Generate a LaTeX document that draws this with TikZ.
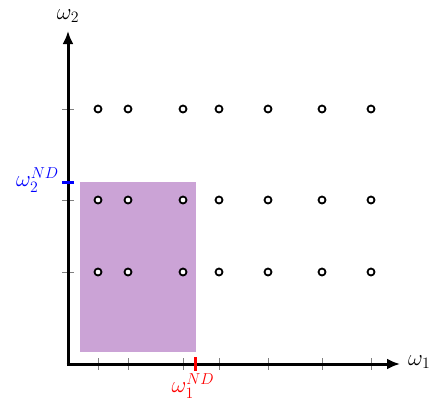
\documentclass[tikz,border=0pt]{standalone}
\usepackage{graphicx}
\usetikzlibrary{arrows.meta}
\definecolor{rectfill}{RGB}{203,163,214}
\newcommand{\biglab}[1]{\scalebox{1.1}{\fontsize{20.74}{25}\selectfont$#1$}}
\begin{document}
\begin{tikzpicture}[x=1pt,y=-1pt,
  axis/.style={line width=3pt,-{Latex[length=13pt,width=11pt]}},
  tickmark/.style={draw=gray,line width=0.8pt},
  pt/.style={circle,draw=black,fill=white,line width=1.8pt,minimum size=7pt,inner sep=0pt},
  lab/.style={inner sep=0pt}]
\useasboundingbox (0,0) rectangle (434,397);
\fill[rectfill] (80,182) rectangle (196,352);
\coordinate (O) at (68,364);
\coordinate (ytop) at (68,31);
\coordinate (xend) at (400,364);
\foreach \x in {98,128,183,219,268,322,371}{
  \draw[tickmark] (\x,358) -- (\x,370);
}
\foreach \y in {109,200,272}{
  \draw[tickmark] (62,\y) -- (74,\y);
}
\draw[axis] (68,364) -- (ytop);
\draw[axis] (66.5,364) -- (xend);
\draw[blue,line width=3pt] (62,182) -- (74,182);
\draw[red,line width=3pt] (195,357) -- (195,371);
\foreach \x in {98,128,183,219,268,322,371}{
  \foreach \y in {109,200,272}{
    \node[pt] (p\x-\y) at (\x,\y) {};
  }
}
\node[lab] (w2) at (68,16) {\biglab{\omega_2}};
\node[lab,anchor=west] (w1) at (408,362) {\biglab{\omega_1}};
\node[lab,anchor=east,text=blue] (w2nd) at (59,180) {\biglab{\omega_2^{ND}}};
\node[lab,text=red] (w1nd) at (193,386) {\biglab{\omega_1^{ND}}};
\end{tikzpicture}
\end{document}
